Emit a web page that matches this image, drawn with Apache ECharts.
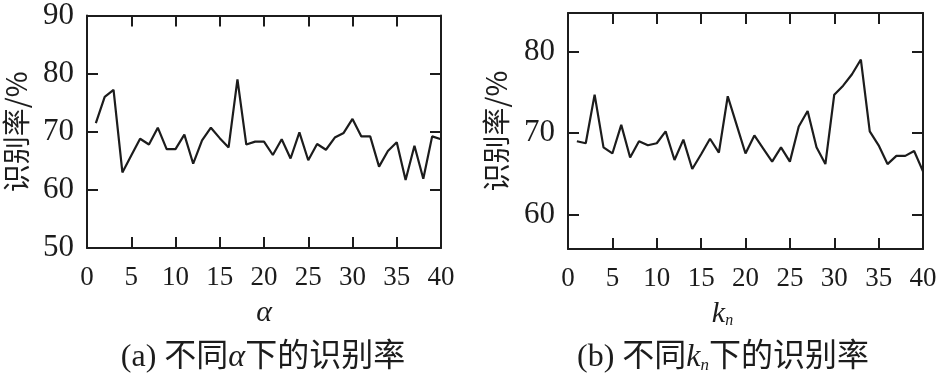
<!DOCTYPE html>
<html><head><meta charset="utf-8">
<script src="https://cdn.jsdelivr.net/npm/echarts@6/dist/echarts.min.js"></script>
<style>html,body{margin:0;background:#fff}#c{width:946px;height:380px}</style>
</head><body><div id="c"></div>
<script>
const xValues = [1,2,3,4,5,6,7,8,9,10,11,12,13,14,15,16,17,18,19,20,21,22,23,24,25,26,27,28,29,30,31,32,33,34,35,36,37,38,39,40];
const alphaRates = [71.5,76.0,77.2,63.0,65.9,68.8,67.8,70.7,67.0,67.0,69.5,64.5,68.5,70.7,68.9,67.3,79.0,67.8,68.3,68.3,66.0,68.7,65.4,69.9,65.1,67.9,66.9,69.0,69.8,72.2,69.2,69.2,64.0,66.7,68.2,61.7,67.6,61.9,69.2,68.7];
const knRates = [69.0,68.75,74.7,68.25,67.5,71.0,67.0,69.0,68.5,68.75,70.2,66.7,69.2,65.6,67.4,69.3,67.6,74.5,71.0,67.5,69.7,68.1,66.5,68.25,66.5,70.8,72.7,68.25,66.2,74.7,75.8,77.2,79.0,70.2,68.5,66.2,67.2,67.2,67.8,65.3];
const xTickLabels = [0,5,10,15,20,25,30,35,40];
const leftYTicks = [50,60,70,80,90];
const rightYTicks = [60,70,80];
const rightYRange = [55.8, 84.7];
const yName = '识别率/%';
const captionA = '(a) 不同{i|α}下的识别率';
const captionB = '(b) 不同{k|k}{n|n}下的识别率';

const INK = '#1c1c1c';
const SERIF = "'Liberation Serif','Noto Sans CJK SC'";
const CJK = "'Noto Sans CJK SC','Liberation Serif'";

function axLine(){ return {show:true, onZero:false, lineStyle:{color:INK, width:2}}; }
function axTick(vals){ const t={show:true, inside:true, length:11, lineStyle:{color:INK, width:2}}; if(vals) t.customValues=vals; return t; }

const chart = echarts.init(document.getElementById('c'));
const grids = [
  {left:87, top:14, width:354, height:234},
  {left:568, top:13, width:355, height:236}
];
function xAxes(gi, nameCfg){
  const mk = (pos, lbl) => Object.assign({type:'value', gridIndex:gi, position:pos, min:xTickLabels[0], max:xTickLabels[xTickLabels.length-1], interval:xTickLabels[1]-xTickLabels[0],
    axisLine:axLine(), axisTick:axTick(null), splitLine:{show:false}, axisLabel:lbl});
  return [
    Object.assign(mk('bottom', {show:true, margin:16, fontSize:27, color:INK, fontFamily:SERIF}), nameCfg),
    mk('top', {show:false})
  ];
}
function yAxes(gi, mn, mx, ticks, nameGap, custom){
  const mk = (pos, lbl) => {
    const a = {type:'value', gridIndex:gi, position:pos, min:mn, max:mx,
      axisLine:axLine(), axisTick:axTick(custom ? ticks : null), splitLine:{show:false}, axisLabel:lbl};
    if(!custom) a.interval = ticks[1]-ticks[0];
    return a;
  };
  const lbl = {show:true, margin:13, fontSize:31, color:INK, fontFamily:SERIF};
  if(custom) lbl.customValues = ticks;
  return [
    Object.assign(mk('left', lbl), {name:yName, nameLocation:'middle', nameGap:nameGap, nameTextStyle:{fontSize:28, color:INK, fontFamily:CJK}}),
    mk('right', {show:false})
  ];
}
const xA = xAxes(0, {name:'α', nameLocation:'middle', nameGap:50, nameTextStyle:{fontSize:30, fontStyle:'italic', color:INK, fontFamily:SERIF}});
const xB = xAxes(1, {name:'{k|k}{n|n}', nameLocation:'middle', nameGap:50, nameTextStyle:{color:INK, padding:[0,46,0,0],
  rich:{k:{fontSize:30, fontStyle:'italic', color:INK, fontFamily:SERIF}, n:{fontSize:16, fontStyle:'italic', color:INK, fontFamily:SERIF, padding:[14,0,0,0]}}}});
const yA = yAxes(0, leftYTicks[0], leftYTicks[leftYTicks.length-1], leftYTicks, 57, false);
const yB = yAxes(1, rightYRange[0], rightYRange[1], rightYTicks, 58, true);

function pairs(vals){ return xValues.map((x,i)=>[x, vals[i]]); }
const lineStyle = {color:INK, width:2.2};

chart.setOption({
  animation:false,
  backgroundColor:'#fff',
  grid:grids,
  xAxis:[...xA, ...xB],
  yAxis:[...yA, ...yB],
  series:[
    {type:'line', xAxisIndex:0, yAxisIndex:0, data:pairs(alphaRates), showSymbol:false, symbol:'none', lineStyle:lineStyle},
    {type:'line', xAxisIndex:2, yAxisIndex:2, data:pairs(knRates), showSymbol:false, symbol:'none', lineStyle:lineStyle}
  ],
  graphic:[
    {type:'text', x:263, y:358, style:{text:captionA, align:'center', verticalAlign:'middle', fill:INK, fontSize:32, fontFamily:SERIF,
      rich:{i:{fontSize:32, fontStyle:'italic', fill:INK, fontFamily:SERIF}}}},
    {type:'text', x:723, y:358, style:{text:captionB, align:'center', verticalAlign:'middle', fill:INK, fontSize:32, fontFamily:SERIF,
      rich:{k:{fontSize:32, fontStyle:'italic', fill:INK, fontFamily:SERIF}, n:{fontSize:17, fontStyle:'italic', fill:INK, fontFamily:SERIF, padding:[16,0,0,0]}}}}
  ]
});
</script></body></html>
